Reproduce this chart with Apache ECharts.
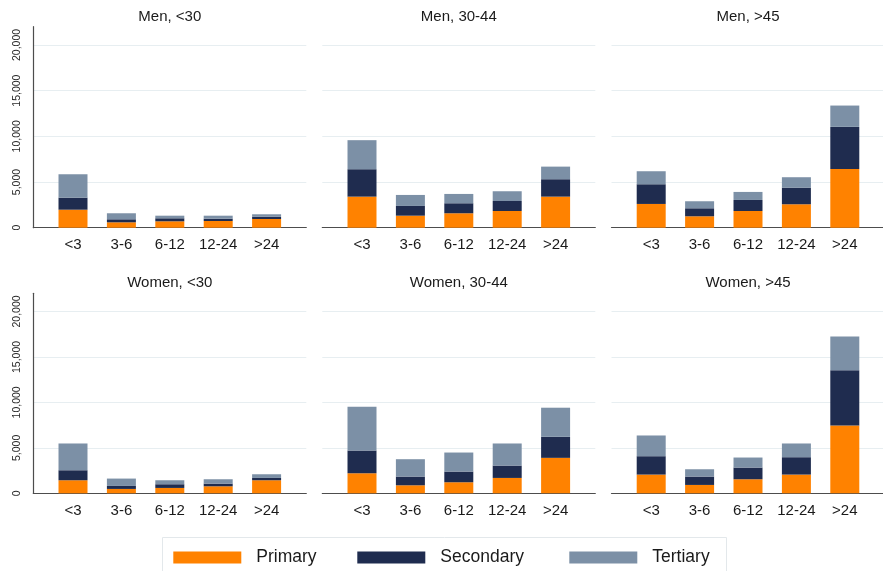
<!DOCTYPE html>
<html>
<head>
<meta charset="utf-8">
<script src="https://cdn.jsdelivr.net/npm/echarts@6/dist/echarts.min.js"></script>
<style>
  html, body { margin: 0; padding: 0; background: #fff; }
  #chart { width: 883px; height: 571px; }
</style>
</head>
<body>
<div id="chart"></div>
<script>
// Unemployment spells by duration (months), split by sex, age group and education level
const categories = ['<3', '3-6', '6-12', '12-24', '>24'];
const panelTitles = ['Men, <30', 'Men, 30-44', 'Men, >45', 'Women, <30', 'Women, 30-44', 'Women, >45'];
const levelNames = ['Primary', 'Secondary', 'Tertiary'];
const yTickValues = [0, 5000, 10000, 15000, 20000];
const yMax = 22000;

// Stacked segment sizes, one array per education level and panel
const primaryMenU30 = [1970, 590, 700, 735, 955];
const secondaryMenU30 = [1320, 330, 330, 250, 250];
const tertiaryMenU30 = [2560, 660, 285, 330, 265];

const primaryMen3044 = [3400, 1315, 1580, 1830, 3400];
const secondaryMen3044 = [3000, 1065, 1095, 1095, 1905];
const tertiaryMen3044 = [3180, 1205, 1020, 1065, 1380];

const primaryMen45 = [2600, 1250, 1830, 2565, 6435];
const secondaryMen45 = [2155, 875, 1205, 1820, 4600];
const tertiaryMen45 = [1425, 770, 880, 1140, 2335];

const primaryWomenU30 = [1435, 480, 590, 770, 1435];
const secondaryWomenU30 = [1100, 330, 405, 295, 255];
const tertiaryWomenU30 = [2945, 810, 440, 480, 405];

const primaryWomen3044 = [2205, 880, 1215, 1690, 3900];
const secondaryWomen3044 = [2500, 960, 1175, 1360, 2315];
const tertiaryWomen3044 = [4820, 1910, 2095, 2430, 3200];

const primaryWomen45 = [2060, 920, 1545, 2060, 7465];
const secondaryWomen45 = [2020, 920, 1285, 1910, 6065];
const tertiaryWomen45 = [2280, 805, 1105, 1510, 3715];

const panelData = [
  [primaryMenU30, secondaryMenU30, tertiaryMenU30],
  [primaryMen3044, secondaryMen3044, tertiaryMen3044],
  [primaryMen45, secondaryMen45, tertiaryMen45],
  [primaryWomenU30, secondaryWomenU30, tertiaryWomenU30],
  [primaryWomen3044, secondaryWomen3044, tertiaryWomen3044],
  [primaryWomen45, secondaryWomen45, tertiaryWomen45]
];

const levelColors = ['#ff8200', '#1f2c4f', '#7c90a6'];
const FONT = '"Liberation Sans", Arial, Helvetica, sans-serif';

// Panel geometry
const colLeft = [33.3, 322.3, 611.5];
const rowTop = [26.7, 293.3];
const panelW = 273;
const panelH = [201, 200];
const inset = 15.5; // gap between axis ends and the outer bars

const grids = [], xAxes = [], yAxes = [], series = [], titles = [];

panelTitles.forEach((t, p) => {
  const col = p % 3, row = Math.floor(p / 3);
  const left = colLeft[col], top = rowTop[row], h = panelH[row];

  // outer frame: gridlines, value labels and axis lines
  const outer = grids.length;
  grids.push({ left: left, top: top, width: panelW, height: h, containLabel: false });
  xAxes.push({
    gridIndex: outer, type: 'value', min: 0, max: 1,
    axisLine: { show: true, lineStyle: { color: '#4d4d4d', width: 1.2 } },
    axisTick: { show: false }, axisLabel: { show: false }, splitLine: { show: false }
  });
  yAxes.push({
    gridIndex: outer, type: 'value', min: 0, max: yMax, interval: 5000,
    axisLine: { show: col === 0, lineStyle: { color: '#4d4d4d', width: 1.2 } },
    axisTick: { show: false },
    axisLabel: {
      show: col === 0, rotate: 90, fontSize: 10.5, color: '#2a2a2a', fontFamily: FONT, margin: 11,
      showMaxLabel: false,
      formatter: v => yTickValues.indexOf(v) >= 0 ? v.toLocaleString('en-US') : ''
    },
    splitLine: { show: true, showMinLine: false, showMaxLine: false, lineStyle: { color: '#e7eef1', width: 1 } }
  });

  // inner frame: category bands holding the stacked bars
  const inner = grids.length;
  grids.push({ left: left + inset, top: top, width: panelW - 2 * inset, height: h, containLabel: false });
  xAxes.push({
    gridIndex: inner, type: 'category', data: categories,
    axisLine: { show: false }, axisTick: { show: false },
    axisLabel: { fontSize: 15, color: '#1a1a1a', fontFamily: FONT, margin: 10, interval: 0 }
  });
  yAxes.push({
    gridIndex: inner, type: 'value', min: 0, max: yMax, show: false
  });

  panelData[p].forEach((vals, k) => {
    series.push({
      name: levelNames[k], type: 'bar', stack: 'edu' + p,
      xAxisIndex: inner, yAxisIndex: inner,
      barWidth: 29, data: vals,
      itemStyle: { color: levelColors[k] },
      emphasis: { disabled: true }
    });
  });

  titles.push({
    text: t, left: left + panelW / 2, top: row === 0 ? 9 : 275, textAlign: 'center', padding: 0,
    textStyle: { fontSize: 15, fontWeight: 'normal', color: '#1a1a1a', fontFamily: FONT }
  });
});

// one legend entry per education level, laid out inside a framed box
const legendLefts = [173.3, 357.3, 569.3];
const legends = levelNames.map((n, k) => ({
  data: [n], left: legendLefts[k], top: 548.5, padding: 0,
  icon: 'rect', itemWidth: 68, itemHeight: 12, selectedMode: false,
  textStyle: { fontSize: 17.5, color: '#1a1a1a', fontFamily: FONT, padding: [0, 0, 0, 10] }
}));

const chart = echarts.init(document.getElementById('chart'), null, { renderer: 'canvas' });
chart.setOption({
  backgroundColor: '#ffffff',
  animation: false,
  title: titles,
  grid: grids,
  xAxis: xAxes,
  yAxis: yAxes,
  legend: legends,
  graphic: [{
    type: 'rect', shape: { x: 162.5, y: 537.5, width: 564, height: 60 },
    style: { fill: 'none', stroke: '#e3e8eb', lineWidth: 1 }, silent: true
  }],
  series: series
});
</script>
</body>
</html>
